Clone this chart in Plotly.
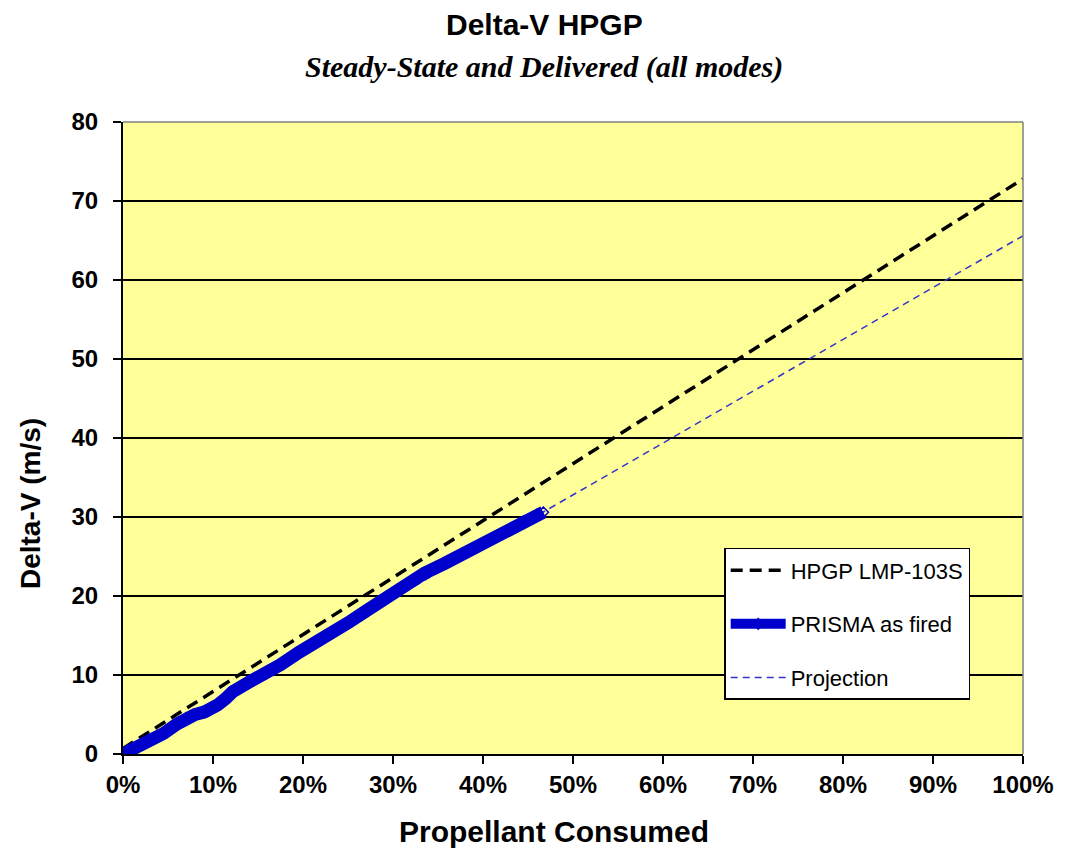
import plotly.graph_objects as go

# Propellant consumed (%) and delta-V (m/s)
hpgp_x = [0, 100]
hpgp_y = [0.7, 72.8]

prisma_x = [0, 1.5, 3, 4.5, 6, 7, 8, 9, 9.6, 10.5, 11.4, 12.2, 14, 15.9, 17.5, 19.6,
            21.5, 23.2, 25, 27, 28.5, 29.9, 31, 32, 33.5, 35.7, 37.5, 39.4, 41, 43,
            44.5, 46, 46.7]
prisma_y = [0, 0.8, 1.6, 2.6, 3.8, 4.6, 5.0, 5.3, 5.5, 6.2, 7.0, 7.9, 9.1, 10.2, 11.3,
            12.9, 14.1, 15.3, 16.6, 18.1, 19.2, 20.3, 21.1, 21.9, 22.9, 24.1, 25.2,
            26.2, 27.2, 28.5, 29.5, 30.3, 30.6]

proj_x = [0, 100]
proj_y = [0, 65.6]

x_ticks = [0, 10, 20, 30, 40, 50, 60, 70, 80, 90, 100]
y_ticks = [0, 10, 20, 30, 40, 50, 60, 70, 80]

SANS = "Liberation Sans, Arial, sans-serif"
SERIF = "Liberation Serif, Times New Roman, serif"
BLUE = "#0000CC"

fig = go.Figure()

fig.add_trace(go.Scatter(
    x=proj_x, y=proj_y, mode="lines", name="Projection",
    line=dict(color="#3535C8", width=1.5, dash="7px,5px"),
    legendgroup="c", legendrank=3,
))
fig.add_trace(go.Scatter(
    x=hpgp_x, y=hpgp_y, mode="lines", name="HPGP LMP-103S",
    line=dict(color="black", width=3.5, dash="12px,7px"),
    legendgroup="a", legendrank=1,
))
fig.add_trace(go.Scatter(
    x=prisma_x, y=prisma_y, mode="lines+markers", name="PRISMA as fired",
    line=dict(color=BLUE, width=13),
    marker=dict(symbol="diamond-open", size=8, color=BLUE, line=dict(width=1.5)),
    legendgroup="b", legendrank=2,
))

fig.update_layout(
    width=1066, height=852,
    margin=dict(l=123, r=39, t=122, b=98),
    paper_bgcolor="white",
    plot_bgcolor="#FFFF99",
    showlegend=True,
    legend=dict(
        x=0.668, y=0.326, xanchor="left", yanchor="top",
        bgcolor="white", bordercolor="black", borderwidth=1.5,
        font=dict(family=SANS, size=22, color="black"),
        tracegroupgap=22,
        itemwidth=55,
    ),
)

fig.update_xaxes(
    range=[0, 100], tickvals=x_ticks,
    ticktext=[f"{v}%" for v in x_ticks],
    showgrid=False, zeroline=False,
    showline=True, linecolor="black", linewidth=2,
    ticks="outside", ticklen=8, tickwidth=1.5, tickcolor="black",
    tickfont=dict(family=SANS, size=24, color="black", weight="bold"),
)
fig.update_yaxes(
    range=[0, 80], tickvals=y_ticks,
    showgrid=True, gridcolor="black", gridwidth=1.5,
    zeroline=False,
    showline=True, linecolor="black", linewidth=2,
    ticks="outside", ticklen=8, tickwidth=1.5, tickcolor="black",
    ticklabelstandoff=10,
    tickfont=dict(family=SANS, size=24, color="black", weight="bold"),
)

# grey frame on the top and right edges of the plot area
fig.add_shape(type="line", xref="paper", yref="paper", x0=0, x1=1, y0=1, y1=1,
              line=dict(color="#808080", width=1.5), layer="above")
fig.add_shape(type="line", xref="paper", yref="paper", x0=1, x1=1, y0=0, y1=1,
              line=dict(color="#808080", width=1.5), layer="above")

# titles
fig.add_annotation(
    text="Delta-V HPGP", xref="paper", yref="paper", x=0.468, y=1.155,
    xanchor="center", yanchor="middle", showarrow=False,
    font=dict(family=SANS, size=30, color="black", weight="bold"),
)
fig.add_annotation(
    text="Steady-State and Delivered (all modes)", xref="paper", yref="paper",
    x=0.468, y=1.087, xanchor="center", yanchor="middle", showarrow=False,
    font=dict(family=SERIF, size=30, color="black", weight="bold", style="italic"),
)
fig.add_annotation(
    text="Propellant Consumed", xref="paper", yref="paper", x=0.479, y=-0.122,
    xanchor="center", yanchor="middle", showarrow=False,
    font=dict(family=SANS, size=30, color="black", weight="bold"),
)
fig.add_annotation(
    text="Delta-V (m/s)", xref="paper", yref="paper", x=-0.103, y=0.396,
    xanchor="center", yanchor="middle", showarrow=False, textangle=-90,
    font=dict(family=SANS, size=28, color="black", weight="bold"),
)

fig.write_html("out.html")
